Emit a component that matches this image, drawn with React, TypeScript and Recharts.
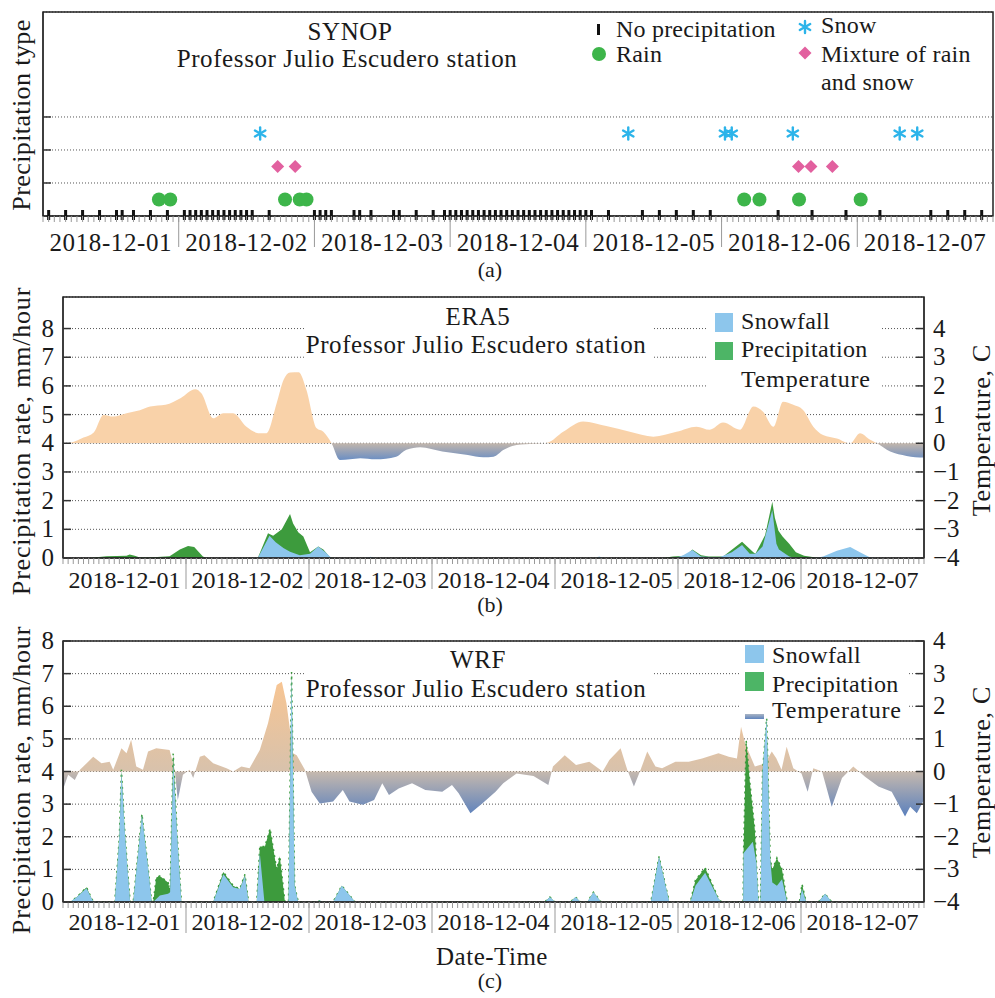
import React from 'react'
import {
  ComposedChart,
  Area,
  Scatter,
  XAxis,
  YAxis,
  CartesianGrid,
  ReferenceArea,
} from 'recharts'

const serif = 'Liberation Serif, DejaVu Serif, Times New Roman, serif'

const dayLabels = ['2018-12-01', '2018-12-02', '2018-12-03', '2018-12-04', '2018-12-05', '2018-12-06', '2018-12-07']
const hourTicks = Array.from({ length: 169 }, (_, i) => i)

// SYNOP observations, hours since 2018-12-01 00:00
const noPrecipHours = [
  1, 4, 7, 10, 13, 14, 16, 19, 22, 25, 26, 27, 28, 29, 30, 31, 32, 33, 34, 35, 36, 37, 40, 48, 49, 50, 51, 55, 56,
  58, 62, 63, 66, 69, 71, 72, 73, 74, 75, 76, 77, 78, 79, 80, 81, 82, 83, 84, 85, 86, 87, 88, 89, 90, 91, 92, 93,
  94, 95, 96, 97, 100, 106, 109, 112, 115, 118, 130, 136, 142, 148, 157, 160, 163, 166,
]
const rainHours = [20.5, 22.5, 42.8, 45.4, 46.6, 124, 126.7, 133.7, 144.6]
const mixHours = [41.5, 44.6, 133.6, 135.8, 139.6]
const snowHours = [38.4, 103.5, 120.6, 121.8, 132.6, 151.5, 154.6]

// ERA5 [hour, value]
const era5Temp: [number, number][] = [
  [0, 0], [1.5, 0.02], [4, 0.2], [6, 0.38], [7.9, 0.99], [9.8, 0.93], [12.4, 1.05], [15, 1.15], [17, 1.28],
  [20, 1.34], [23, 1.58], [25.8, 1.88], [27, 1.74], [29.3, 0.87], [31.3, 1.05], [33.2, 1.05], [35.8, 0.58],
  [38.4, 0.35], [39.7, 0.35], [41.7, 1.4], [43, 2.2], [44.3, 2.47], [46, 2.48], [47.5, 1.86], [49.5, 0.52],
  [50.8, 0.4], [52.4, 0], [54, -0.58], [56, -0.56], [58, -0.52], [61, -0.56], [65, -0.47], [67, -0.23],
  [69.7, -0.14], [74, -0.29], [79, -0.41], [82, -0.49], [84, -0.47], [86, -0.23], [88.5, -0.06], [92, -0.02],
  [94.5, 0.02], [97.6, 0.4], [101.5, 0.76], [106, 0.6], [110.6, 0.4], [115.2, 0.23], [119.7, 0.4], [123.6, 0.58],
  [126.2, 0.47], [128.8, 0.72], [132.1, 0.47], [134.7, 1.28], [136.6, 1.1], [138.6, 0.58], [140.5, 1.45],
  [142.5, 1.34], [144.4, 1.16], [146.4, 0.58], [148.3, 0.29], [151, 0.17], [153.6, 0], [155.5, 0.35],
  [157.5, 0.12], [158.8, 0], [161.4, -0.29], [164.6, -0.44], [168, -0.5],
]
const era5Precip: [number, number][] = [
  [0, 0], [5, 0], [6, 0.02], [8.5, 0.06], [12.4, 0.08], [13, 0.12], [14, 0.08], [15, 0.02], [17.6, 0.03],
  [20.8, 0.06], [22.8, 0.3], [24.4, 0.42], [25.6, 0.38], [27.3, 0.05], [28, 0], [38, 0], [40, 0.86], [41, 0.78],
  [42.7, 1.0], [44.3, 1.53], [44.9, 1.2], [45.9, 0.9], [46.9, 0.75], [48.2, 0.2], [49.8, 0.4], [50.8, 0.3],
  [52.1, 0.03], [53, 0], [117, 0], [119, 0.05], [121.5, 0.08], [122.8, 0.3], [124.5, 0.1], [126, 0.05],
  [128.8, 0.05], [132.5, 0.57], [134.7, 0.2], [135.1, 0.15], [137, 0.8], [138.4, 1.96], [138.9, 1.4],
  [139.6, 0.95], [140.4, 0.75], [141.7, 0.5], [143, 0.2], [144.6, 0.08], [146.9, 0.02], [148, 0], [168, 0],
]
const era5Snow: [number, number][] = [
  [0, 0], [38, 0], [40.3, 0.78], [41.5, 0.55], [43, 0.35], [44.3, 0.22], [46.2, 0.1], [48.2, 0.15], [49.8, 0.4],
  [51.2, 0.2], [52.4, 0], [59, 0], [60, 0.04], [61, 0], [104, 0], [104.6, 0.05], [105.5, 0], [119.5, 0],
  [121, 0.1], [122.8, 0.28], [124.5, 0.05], [128, 0.02], [130.5, 0.2], [132.5, 0.45], [134, 0.15], [135.1, 0.15],
  [136.5, 0.4], [138.4, 1.67], [139.2, 0.5], [139.7, 0.3], [141.7, 0.05], [143, 0], [147, 0], [148.3, 0.05],
  [151, 0.25], [153.6, 0.38], [155.5, 0.2], [157.5, 0.02], [158.5, 0], [168, 0],
]

// WRF [hour, value]
const wrfTemp: [number, number][] = [
  [0, -0.55], [1, -0.1], [2.3, -0.26], [3.3, 0.05], [5.9, 0.45], [7.5, 0.25], [9.1, 0.3], [9.8, 0.05], [11.4, 0.71],
  [12.4, 0.56], [13.3, 0.97], [14.3, 0.15], [15.6, 0.05], [16.6, 0.61], [18.2, 0.71], [20.8, 0.66], [21.8, 0.05],
  [22.4, -0.87], [23.4, -0.1], [24.7, 0.05], [25.4, -0.2], [26.7, 0.45], [27.6, 0.5], [29.3, 0.25], [31.9, 0.1],
  [33.2, 0], [34.8, 0.15], [36.4, 0.1], [38.4, 0.66], [40, 1.48], [41.7, 2.65], [42.7, 2.75], [43.6, 2.09],
  [44.9, 0.56], [45.6, 0.5], [47.2, 0.05], [48.5, -0.62], [50.1, -0.98], [52.7, -0.92], [54.6, -0.57],
  [55.9, -0.92], [58.5, -1.02], [60.7, -0.87], [62.3, -0.36], [63.6, -0.72], [65.5, -0.52], [68.1, -0.36],
  [70.7, -0.57], [74, -0.62], [75.9, -0.41], [77.2, -0.67], [79.5, -1.28], [81.8, -0.98], [84.4, -0.62],
  [85.9, -0.36], [88.5, -0.06], [91.8, -0.14], [94.7, -0.41], [95.6, 0.15], [97.9, 0.5], [100.1, 0.2],
  [102.7, 0.3], [105.3, 0], [106.6, 0.35], [108.8, 0.71], [110.1, 0.05], [111.4, -0.46], [112.7, 0.05],
  [114, 0.61], [115.6, 0.15], [116.9, 0.1], [119.5, 0.3], [122.1, 0.3], [124.7, 0.4], [127.9, 0.56],
  [129.9, 0.45], [131.5, 0.4], [132.3, 1.37], [133.1, 0.86], [135, 0.15], [137, 0.25], [138.3, 0.61],
  [139.2, 0.4], [140.2, 0.05], [141.2, 0.76], [142.5, 0.1], [144.1, -0.06], [145.3, -0.62], [146.4, 0.1],
  [148.1, 0], [150, -1.08], [152, -0.2], [154.2, 0.15], [156.5, -0.16], [159.1, -0.46], [161.7, -0.62],
  [164.3, -1.38], [165.3, -1.08], [166.6, -1.28], [168, -0.87],
]
const wrfPrecip: [number, number][] = [
  [0, 0], [1.4, 0], [2.7, 0.15], [4.6, 0.45], [5.6, 0.1], [6, 0], [10.1, 0], [11, 2.0], [11.4, 4.05], [12, 2.3],
  [12.6, 1.0], [13.1, 0], [13.7, 0], [15.4, 2.7], [16.5, 1.2], [17.3, 0], [17.6, 0], [18.2, 0.75], [18.9, 0.8],
  [20.5, 0.6], [20.9, 0.35], [21.5, 4.55], [22.3, 2.0], [23.1, 0], [29.3, 0], [31.3, 0.92], [33.2, 0.5],
  [34.5, 0.4], [35.5, 0.85], [36.2, 0], [37.8, 0], [38.4, 1.7], [39.4, 1.7], [40.4, 2.25], [41.7, 1.0],
  [42.3, 1.4], [43.3, 0], [44, 0], [44.6, 7.05], [45.2, 0.5], [45.9, 0], [49.8, 0], [50.1, 0.05], [50.5, 0],
  [52.7, 0], [54.4, 0.5], [57, 0], [94, 0], [95, 0.15], [96, 0], [99, 0], [100, 0.15], [101, 0], [102.3, 0],
  [103.5, 0.3], [105, 0], [114.7, 0], [116.3, 1.4], [118.3, 0], [122.4, 0], [123.4, 0.67], [125.3, 1.05],
  [127.9, 0.1], [128.5, 0], [132.7, 0], [132.8, 1.6], [133.3, 4.96], [134, 3.7], [135, 2.2], [135.3, 1.2],
  [135.7, 0], [136.1, 0], [136.5, 4.0], [137.3, 5.63], [138, 1.3], [138.4, 1.0], [139.3, 1.35], [140.3, 1.0],
  [141.3, 0], [143.7, 0], [144.2, 0.55], [145, 0], [147.4, 0], [148.7, 0.25], [150, 0], [168, 0],
]
const wrfSnow: [number, number][] = [
  [0, 0], [1.4, 0], [2.7, 0.15], [4.6, 0.42], [5.6, 0.1], [6, 0], [10.1, 0], [11, 2.0], [11.4, 4.0], [12, 2.3],
  [12.6, 1.0], [13.1, 0], [13.7, 0], [15.4, 2.67], [16.5, 1.2], [17.3, 0], [17.6, 0], [18.9, 0.2], [20.5, 0.25],
  [20.9, 0.3], [21.5, 4.3], [22.3, 2.0], [23.1, 0], [29.3, 0], [31.3, 0.85], [33.2, 0.45], [34.5, 0.4],
  [35.5, 0.8], [36.2, 0], [37.8, 0], [38.4, 1.5], [39.3, 0], [44, 0], [44.6, 7.0], [45.2, 0.5], [45.9, 0],
  [49.8, 0], [50.1, 0.05], [50.5, 0], [52.7, 0], [54.4, 0.5], [57, 0], [94, 0], [95, 0.15], [96, 0], [99, 0],
  [100, 0.15], [101, 0], [102.3, 0], [103.5, 0.3], [105, 0], [114.7, 0], [116.3, 1.39], [118.3, 0], [122.4, 0],
  [123.4, 0.5], [125.3, 0.9], [127.9, 0.1], [128.5, 0], [132.7, 0], [132.8, 1.5], [134.6, 1.85], [135.3, 1.2],
  [135.7, 0], [136.1, 0], [136.5, 4.0], [137.3, 5.63], [138, 1.3], [138.4, 0.6], [139.3, 0.5], [140.3, 0.7],
  [141.3, 0], [143.7, 0], [144.2, 0.4], [145, 0], [147.4, 0], [148.7, 0.25], [150, 0], [168, 0],
]

function mergeSeries(series: Record<string, [number, number][]>) {
  const byHour = new Map<number, any>()
  for (const [key, pts] of Object.entries(series)) {
    for (const [h, v] of pts) {
      const row = byHour.get(h) ?? { h }
      row[key] = v
      byHour.set(h, row)
    }
  }
  return [...byHour.values()].sort((a, b) => a.h - b.h)
}

function zeroOffset(pts: [number, number][]) {
  const vals = pts.map((p) => p[1])
  const mx = Math.max(...vals)
  const mn = Math.min(...vals)
  return mx / (mx - mn)
}

const era5Rows = mergeSeries({ temp: era5Temp, precip: era5Precip, snow: era5Snow })
const wrfRows = mergeSeries({ temp: wrfTemp, precip: wrfPrecip, snow: wrfSnow })

const txt = { style: { fontFamily: serif }, fill: '#1a1a1a' }

const makeDateTick = (labelDy: number, fontSize: number, spacing: number) => (p: any) => {
  const v = Number(p.payload.value)
  const { x, y } = p
  return (
    <g>
      <line x1={x} y1={y} x2={x} y2={y + 6} stroke="#999" strokeWidth={1} />
      {v % 24 === 0 && v > 0 && v < 168 && (
        <line x1={x} y1={y} x2={x} y2={y + 31} stroke="#999" strokeWidth={1} />
      )}
      {v % 24 === 12 && (
        <text {...txt} x={x} y={y + labelDy} textAnchor="middle" fontSize={fontSize} letterSpacing={spacing}>
          {dayLabels[Math.floor(v / 24)]}
        </text>
      )}
    </g>
  )
}

const innerTick = (p: any) => (
  <line x1={p.x} y1={p.y} x2={p.x + 8} y2={p.y} stroke="#333" strokeWidth={1.5} />
)

const leftTick = (p: any) => (
  <g>
    <line x1={p.x} y1={p.y} x2={p.x + 8} y2={p.y} stroke="#333" strokeWidth={1.5} />
    <text {...txt} x={p.x - 9} y={p.y + 8} textAnchor="end" fontSize={25}>
      {p.payload.value}
    </text>
  </g>
)

const rightTick = (p: any) => {
  const v = Number(p.payload.value)
  return (
    <g>
      <line x1={p.x - 8} y1={p.y} x2={p.x} y2={p.y} stroke="#333" strokeWidth={1.5} />
      <text {...txt} x={p.x + 9} y={p.y + 8} textAnchor="start" fontSize={25}>
        {v < 0 ? '\u2212' + Math.abs(v) : String(v)}
      </text>
    </g>
  )
}

function SnowStar({ cx, cy, r = 6 }: { cx: number; cy: number; r?: number }) {
  const a = r * Math.cos(Math.PI / 6)
  const b = r * 0.5
  return (
    <g stroke="#2cb4ea" strokeWidth={2.4} strokeLinecap="round">
      <line x1={cx} y1={cy - r} x2={cx} y2={cy + r} />
      <line x1={cx - a} y1={cy - b} x2={cx + a} y2={cy + b} />
      <line x1={cx - a} y1={cy + b} x2={cx + a} y2={cy - b} />
    </g>
  )
}

function Diamond({ cx, cy, r = 6.5 }: { cx: number; cy: number; r?: number }) {
  return <path d={`M${cx},${cy - r}L${cx + r},${cy}L${cx},${cy + r}L${cx - r},${cy}Z`} fill="#e2609f" />
}

function SynopChart() {
  const yTop = 6.18
  return (
    <ComposedChart width={995} height={262} margin={{ top: 12, right: 2, left: 0, bottom: 0 }}>
      <XAxis
        dataKey="h"
        type="number"
        domain={[0, 168]}
        ticks={hourTicks}
        interval={0}
        tickSize={0}
        tickMargin={0}
        tickLine={false}
        height={46}
        axisLine={{ stroke: '#222' }}
        tick={makeDateTick(35, 25, 0.6)}
      />
      <YAxis
        dataKey="y"
        type="number"
        domain={[0, yTop]}
        ticks={[1, 2, 3]}
        width={43}
        tickSize={0}
        tickMargin={0}
        tickLine={false}
        axisLine={{ stroke: '#222' }}
        tick={innerTick}
      />
      <CartesianGrid vertical={false} stroke="#555" strokeDasharray="1 2" />
      <Scatter
        data={rainHours.map((h) => ({ h, y: 0.5 }))}
        isAnimationActive={false}
        shape={(p: any) => <circle cx={p.cx} cy={p.cy} r={7} fill="#3db54a" />}
      />
      <Scatter
        data={mixHours.map((h) => ({ h, y: 1.5 }))}
        isAnimationActive={false}
        shape={(p: any) => <Diamond cx={p.cx} cy={p.cy} />}
      />
      <Scatter
        data={snowHours.map((h) => ({ h, y: 2.5 }))}
        isAnimationActive={false}
        shape={(p: any) => <SnowStar cx={p.cx} cy={p.cy} />}
      />
      <Scatter
        data={noPrecipHours.map((h) => ({ h, y: 0 }))}
        isAnimationActive={false}
        shape={(p: any) => <rect x={p.cx - 1.5} y={p.cy - 6} width={3} height={10} fill="#111" />}
      />
      <ReferenceArea x1={0} x2={168} y1={0} y2={yTop} fill="none" stroke="#222" strokeWidth={1.5} ifOverflow="visible" />
    </ComposedChart>
  )
}

type ModelProps = {
  rows: any[]
  tempPts: [number, number][]
  gradId: string
  posColors: [string, string]
  negColors: [string, string]
  height: number
  top: number
  xAxisHeight: number
  yMax: number
  labelDy: number
  curve: 'linear' | 'monotone'
  dotted: boolean
}

function ModelChart(props: ModelProps) {
  const { rows, tempPts, gradId, posColors, negColors, height, top, xAxisHeight, yMax, labelDy, curve, dotted } = props
  const off = zeroOffset(tempPts)
  return (
    <ComposedChart width={995} height={height} data={rows} margin={{ top, right: 0, left: 0, bottom: 0 }}>
      <defs>
        <linearGradient id={gradId} x1="0" y1="0" x2="0" y2="1">
          <stop offset={0} stopColor={posColors[0]} />
          <stop offset={off} stopColor={posColors[1]} />
          <stop offset={off} stopColor={negColors[0]} />
          <stop offset={1} stopColor={negColors[1]} />
        </linearGradient>
      </defs>
      <XAxis
        dataKey="h"
        type="number"
        domain={[0, 168]}
        ticks={hourTicks}
        interval={0}
        tickSize={0}
        tickMargin={0}
        tickLine={false}
        height={xAxisHeight}
        axisLine={{ stroke: '#222' }}
        tick={makeDateTick(labelDy, 24, 0)}
      />
      <YAxis
        yAxisId="l"
        type="number"
        domain={[0, yMax]}
        ticks={[0, 1, 2, 3, 4, 5, 6, 7, 8]}
        allowDataOverflow
        width={63}
        tickSize={0}
        tickMargin={0}
        tickLine={false}
        axisLine={{ stroke: '#222' }}
        tick={leftTick}
      />
      <YAxis
        yAxisId="r"
        orientation="right"
        type="number"
        domain={[-4, yMax - 4]}
        ticks={[-4, -3, -2, -1, 0, 1, 2, 3, 4]}
        allowDataOverflow
        width={71}
        tickSize={0}
        tickMargin={0}
        tickLine={false}
        axisLine={{ stroke: '#222' }}
        tick={rightTick}
      />
      <Area
        yAxisId="r"
        dataKey="temp"
        type={curve}
        baseValue={0}
        connectNulls
        stroke="none"
        fill={`url(#${gradId})`}
        fillOpacity={1}
        isAnimationActive={false}
      />
      <Area
        yAxisId="l"
        dataKey="precip"
        type="linear"
        connectNulls
        stroke={dotted ? '#3a9a3a' : 'none'}
        strokeWidth={1.5}
        strokeDasharray={dotted ? '2 4' : undefined}
        fill="#3d9b3d"
        fillOpacity={1}
        isAnimationActive={false}
      />
      <Area
        yAxisId="l"
        dataKey="snow"
        type="linear"
        connectNulls
        stroke="none"
        fill="#8dc6ec"
        fillOpacity={1}
        isAnimationActive={false}
      />
      <CartesianGrid yAxisId="l" vertical={false} stroke="#555" strokeDasharray="1 2" />
      <ReferenceArea yAxisId="l" x1={0} x2={168} y1={0} y2={yMax} fill="none" stroke="#222" strokeWidth={1.5} ifOverflow="visible" />
    </ComposedChart>
  )
}

function Overlay() {
  return (
    <svg width={995} height={998} style={{ position: 'absolute', left: 0, top: 0, pointerEvents: 'none' }}>
      <defs>
        <linearGradient id="legTemp" x1="0" y1="0" x2="0" y2="1">
          <stop offset={0} stopColor="#a9b4c4" />
          <stop offset={1} stopColor="#5f84bd" />
        </linearGradient>
      </defs>
      {/* panel (a) */}
      <text {...txt} fontSize={26} letterSpacing={0.4} textAnchor="middle" transform="translate(30,115) rotate(-90)">
        Precipitation type
      </text>
      <text {...txt} fontSize={25} letterSpacing={0.6} x={350} y={40} textAnchor="middle">SYNOP</text>
      <text {...txt} fontSize={25} letterSpacing={0.6} x={347} y={67} textAnchor="middle">
        Professor Julio Escudero station
      </text>
      <rect x={597} y={24} width={3} height={11} fill="#111" />
      <text {...txt} fontSize={24} letterSpacing={0.2} x={616} y={37}>No precipitation</text>
      <circle cx={599} cy={54} r={7} fill="#3db54a" />
      <text {...txt} fontSize={24} letterSpacing={0.2} x={616} y={62}>Rain</text>
      <SnowStar cx={805} cy={27} />
      <text {...txt} fontSize={24} letterSpacing={0.2} x={821} y={33}>Snow</text>
      <Diamond cx={805} cy={53} />
      <text {...txt} fontSize={24} letterSpacing={0.2} x={821} y={62}>Mixture of rain</text>
      <text {...txt} fontSize={24} letterSpacing={0.2} x={821} y={90}>and snow</text>
      <text {...txt} fontSize={22} x={490} y={277} textAnchor="middle">(a)</text>

      {/* panel (b) */}
      <text {...txt} fontSize={26} letterSpacing={0.8} textAnchor="middle" transform="translate(30,441) rotate(-90)">
        Precipitation rate, mm/hour
      </text>
      <text {...txt} fontSize={26} letterSpacing={0.8} textAnchor="middle" transform="translate(990,430) rotate(-90)">
        Temperature, C
      </text>
      <rect x={304} y={298} width={348} height={68} fill="#fff" />
      <text {...txt} fontSize={25} letterSpacing={0.6} x={478} y={325} textAnchor="middle">ERA5</text>
      <text {...txt} fontSize={25} letterSpacing={0.6} x={476} y={353} textAnchor="middle">
        Professor Julio Escudero station
      </text>
      <rect x={706} y={298} width={176} height={100} fill="#fff" />
      <rect x={715} y={313} width={18} height={19} fill="#8dc6ec" />
      <rect x={715} y={342} width={18} height={18} fill="#4db566" />
      <text {...txt} fontSize={24} letterSpacing={0.3} x={741} y={329}>Snowfall</text>
      <text {...txt} fontSize={24} letterSpacing={0.3} x={741} y={357}>Precipitation</text>
      <text {...txt} fontSize={24} letterSpacing={0.8} x={741} y={387}>Temperature</text>
      <text {...txt} fontSize={22} x={490} y={612} textAnchor="middle">(b)</text>

      {/* panel (c) */}
      <text {...txt} fontSize={26} letterSpacing={0.8} textAnchor="middle" transform="translate(30,780) rotate(-90)">
        Precipitation rate, mm/hour
      </text>
      <text {...txt} fontSize={26} letterSpacing={0.8} textAnchor="middle" transform="translate(990,772) rotate(-90)">
        Temperature, C
      </text>
      <rect x={304} y={642} width={348} height={60} fill="#fff" />
      <text {...txt} fontSize={25} letterSpacing={0.6} x={478} y={668} textAnchor="middle">WRF</text>
      <text {...txt} fontSize={25} letterSpacing={0.6} x={476} y={697} textAnchor="middle">
        Professor Julio Escudero station
      </text>
      <rect x={740} y={642} width={168} height={68} fill="#fff" />
      <rect x={745} y={645} width={19} height={18} fill="#8dc6ec" />
      <rect x={745} y={672} width={19} height={19} fill="#4db566" />
      <rect x={745} y={714} width={19} height={5} fill="url(#legTemp)" />
      <text {...txt} fontSize={24} letterSpacing={0.3} x={772} y={663}>Snowfall</text>
      <text {...txt} fontSize={24} letterSpacing={0.3} x={772} y={692}>Precipitation</text>
      <text {...txt} fontSize={24} letterSpacing={0.8} x={772} y={718}>Temperature</text>
      <text {...txt} fontSize={25} letterSpacing={0.5} x={492} y={965} textAnchor="middle">Date-Time</text>
      <text {...txt} fontSize={22} x={490} y={988} textAnchor="middle">(c)</text>
    </svg>
  )
}

export default function App() {
  return (
    <div style={{ position: 'absolute', left: 0, top: 0, width: 995, height: 998, background: '#fff', fontFamily: serif }}>
      <div style={{ position: 'absolute', left: 0, top: 0 }}>
        <SynopChart />
      </div>
      <div style={{ position: 'absolute', left: 0, top: 280 }}>
        <ModelChart
          rows={era5Rows}
          tempPts={era5Temp}
          gradId="era5TempFill"
          posColors={['#f9d2a9', '#f9d2a9']}
          negColors={['#c2b6ac', '#6b8ec3']}
          height={330}
          top={17}
          xAxisHeight={52}
          yMax={9.1}
          labelDy={30}
          curve="monotone"
          dotted={false}
        />
      </div>
      <div style={{ position: 'absolute', left: 0, top: 620 }}>
        <ModelChart
          rows={wrfRows}
          tempPts={wrfTemp}
          gradId="wrfTempFill"
          posColors={['#f7c593', '#d8c2ac']}
          negColors={['#c6b9ae', '#5a80bd']}
          height={322}
          top={21}
          xAxisHeight={40}
          yMax={8}
          labelDy={28}
          curve="linear"
          dotted={true}
        />
      </div>
      <Overlay />
    </div>
  )
}
